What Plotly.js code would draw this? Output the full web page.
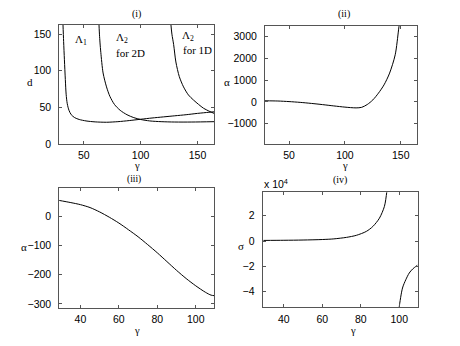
<!DOCTYPE html>
<html>
<head>
<meta charset="utf-8">
<script src="https://cdn.plot.ly/plotly-3.0.1.min.js"></script>
<style>html,body{margin:0;padding:0;background:#fff;}#chart{width:460px;height:346px;}</style>
</head>
<body>
<div id="chart"></div>
<script>
// Panel (i): d versus gamma
var lam1Gamma = [31.7, 32.3, 33, 33.8, 34.5, 35.5, 37, 39, 42, 46, 52, 60, 70, 80, 90, 100, 110, 120, 130, 140, 150, 160, 165];
var lam1D     = [165, 140, 115, 88, 68, 55, 46, 40, 36, 33.5, 31.5, 30.2, 29.7, 30.5, 32, 33.8, 35.5, 37, 38.5, 40, 41.8, 43.3, 44];
var lam2dGamma = [63.2, 63.8, 64.3, 65, 67, 70, 73, 77, 82, 88, 94, 100, 108, 118, 130, 145, 165];
var lam2dD     = [170, 150, 138, 125, 97, 78, 65, 54, 46, 40, 36, 33.5, 31.5, 30.5, 30, 30, 30.5];
var lam1dGamma = [126.5, 127.5, 129, 131, 134, 137.7, 142, 146.5, 151, 155.3, 160, 165];
var lam1dD     = [165, 150, 136, 112, 92, 78, 67, 60, 54, 48.8, 45, 41.5];
// Panel (ii): alpha versus gamma
var alphaWideGamma = [28.5, 40, 50, 60, 70, 80, 90, 100, 105, 110, 115, 120, 125, 130, 135, 140, 145, 148, 149];
var alphaWide      = [50, 40, 14, -23, -70, -125, -185, -240, -262, -275, -250, -120, 90, 400, 780, 1320, 2160, 3300, 3700];
// Panel (iii): alpha versus gamma (zoomed)
var alphaGamma = [28.5, 35, 40, 45, 50, 55, 60, 65, 70, 75, 80, 85, 90, 95, 100, 105, 108, 110];
var alphaVal   = [55, 47, 40, 30, 15, -3, -23, -46, -70, -97, -125, -155, -185, -213, -238, -260, -270, -272];
// Panel (iv): sigma versus gamma (two branches)
var sigmaGammaA = [29.4, 40, 50, 60, 66, 72.6, 77.7, 82.9, 86.3, 89.7, 92.3, 93.5, 94];
var sigmaA      = [500, 600, 800, 1200, 1700, 2900, 4500, 7600, 11500, 18000, 27300, 38300, 45000];
var sigmaGammaB = [99.8, 100, 101.7, 103.4, 105.2, 107, 109.5];
var sigmaB      = [-56000, -52000, -37000, -30500, -25200, -22000, -19000];

var xTicks1 = [50, 100, 150];
var yTicks1 = [0, 50, 100, 150];
var yTicks2 = [-1000, 0, 1000, 2000, 3000];
var xTicks3 = [40, 60, 80, 100];
var yTicks3 = [-300, -200, -100, 0];
var yTicks4 = [-40000, -20000, 0, 20000];
var yTickText4 = ['\u22124', '\u22122', '0', '2'];

var W = 460, H = 346;
function px(x){ return x / W; }
function py(y){ return 1 - y / H; }

var lineStyle = {color: '#000', width: 1, shape: 'spline', smoothing: 0.8};
var traces = [
  {x: lam1Gamma, y: lam1D, xaxis: 'x', yaxis: 'y', mode: 'lines', line: lineStyle},
  {x: lam2dGamma, y: lam2dD, xaxis: 'x', yaxis: 'y', mode: 'lines', line: lineStyle},
  {x: lam1dGamma, y: lam1dD, xaxis: 'x', yaxis: 'y', mode: 'lines', line: lineStyle},
  {x: alphaWideGamma, y: alphaWide, xaxis: 'x2', yaxis: 'y2', mode: 'lines', line: lineStyle},
  {x: alphaGamma, y: alphaVal, xaxis: 'x3', yaxis: 'y3', mode: 'lines', line: lineStyle},
  {x: sigmaGammaA, y: sigmaA, xaxis: 'x4', yaxis: 'y4', mode: 'lines', line: lineStyle},
  {x: sigmaGammaB, y: sigmaB, xaxis: 'x4', yaxis: 'y4', mode: 'lines', line: lineStyle}
];

var tickFont = {family: 'Liberation Sans, Arial, sans-serif', size: 10.5, color: '#000'};
function ax(extra){
  var base = {showline: true, mirror: 'ticks', ticks: 'inside', ticklen: 3, tickcolor: '#555',
    linecolor: '#555', linewidth: 1, zeroline: false, showgrid: false, tickfont: tickFont,
    tickmode: 'array', fixedrange: true};
  for (var k in extra) base[k] = extra[k];
  return base;
}

var serifFam = 'Liberation Serif, Times New Roman, serif';
function note(text, x, y, size){
  return {text: text, x: px(x), y: py(y), xref: 'paper', yref: 'paper', showarrow: false, borderpad: 0,
    xanchor: 'center', yanchor: 'middle', font: {family: serifFam, size: size || 11, color: '#000'}};
}

var layout = {
  width: W, height: H, margin: {l: 0, r: 0, t: 0, b: 0}, showlegend: false,
  paper_bgcolor: '#fff', plot_bgcolor: '#fff',
  xaxis:  ax({domain: [px(59.3), px(214)], range: [28.5, 164.5], tickvals: xTicks1, anchor: 'y', ticklabelstandoff: 1}),
  yaxis:  ax({domain: [py(144), py(25)], range: [0, 162.5], tickvals: yTicks1, anchor: 'x', ticklabelstandoff: 5}),
  xaxis2: ax({domain: [px(265), px(417)], range: [28.5, 164.5], tickvals: xTicks1, anchor: 'y2', ticklabelstandoff: 1}),
  yaxis2: ax({domain: [py(144), py(25.5)], range: [-1930, 3500], tickvals: yTicks2, anchor: 'x2', ticklabelstandoff: 5}),
  xaxis3: ax({domain: [px(59.3), px(214)], range: [29, 109.5], tickvals: xTicks3, anchor: 'y3', ticklabelstandoff: 2}),
  yaxis3: ax({domain: [py(307.7), py(188.3)], range: [-313, 96], tickvals: yTicks3, anchor: 'x3', ticklabelstandoff: 5}),
  xaxis4: ax({domain: [px(262.7), px(417.5)], range: [29, 109.5], tickvals: xTicks3, anchor: 'y4', ticklabelstandoff: 2}),
  yaxis4: ax({domain: [py(307.3), py(192.3)], range: [-52200, 38400], tickvals: yTicks4, ticktext: yTickText4, anchor: 'x4', ticklabelstandoff: 5}),
  annotations: [
    note('(i)', 136.7, 14, 10),
    note('(ii)', 344, 14, 10),
    note('(iii)', 134, 179.5, 9.5),
    note('(iv)', 340, 180, 10),
    note('d', 30, 82),
    note('\u03b1', 227, 82),
    note('\u03b1', 24, 247),
    note('\u03c3', 241, 246),
    note('\u03b3', 137, 166, 10.5),
    note('\u03b3', 345, 166, 10.5),
    note('\u03b3', 137, 330, 10.5),
    note('\u03b3', 353, 330, 10.5),
    note('\u039b<sub>1</sub>', 81, 40),
    note('\u039b<sub>2</sub>', 121.7, 38),
    note('for 2D', 130, 53),
    note('\u039b<sub>2</sub>', 188, 36),
    note('for 1D', 197, 50),
    {text: 'x 10<sup>4</sup>', x: px(263), y: py(184), xref: 'paper', yref: 'paper', showarrow: false, borderpad: 0,
     xanchor: 'left', yanchor: 'middle', font: tickFont}
  ]
};

Plotly.newPlot('chart', traces, layout, {staticPlot: true, displayModeBar: false});
</script>
</body>
</html>
